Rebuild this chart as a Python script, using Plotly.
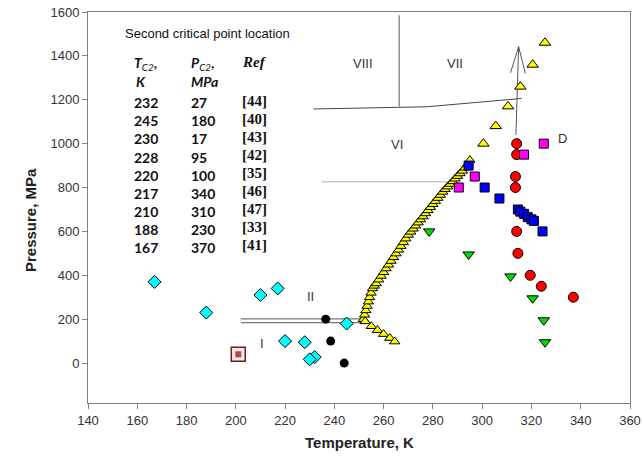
import plotly.graph_objects as go

# ---------------- data ----------------
# second critical point estimates (cyan diamonds) = table values
tc2 = [232, 245, 230, 228, 220, 217, 210, 188, 167]
pc2 = [27, 180, 17, 95, 100, 340, 310, 230, 370]
refs = ["[44]", "[40]", "[43]", "[42]", "[35]", "[46]", "[47]", "[33]", "[41]"]

# yellow triangles: melting line (upper branch)
yel_T = [251.8, 252.3, 252.8, 253.3, 253.8, 254.3, 254.9, 255.5, 256.2,
         257, 258, 259, 260, 261, 262, 263, 264, 265, 266, 267, 268, 269, 270,
         271, 272, 273, 274, 275, 276, 277, 278, 279, 280, 281, 282, 283, 284,
         285, 286, 287, 288, 289, 290, 291, 292, 293, 294, 295]
yel_P = [200, 220, 240, 260, 280, 300, 320, 340, 352,
         363, 380, 397, 414, 431, 448, 465, 482, 499, 516, 533, 550, 567, 584,
         598, 612, 626, 640, 654, 668, 682, 696, 710, 724, 738, 752, 766, 780,
         792, 804, 816, 828, 840, 852, 864, 876, 890, 905, 925]
# yellow triangles: lower branch
yel2_T = [252.5, 255, 257.5, 260, 262.5, 264.5]
yel2_P = [190, 168, 150, 132, 114, 98]
# yellow triangles: high-pressure branch
yel3_T = [300.5, 305.5, 310.5, 315.5, 320.5, 325.5]
yel3_P = [1000, 1080, 1170, 1260, 1360, 1460]

red_T = [314, 314, 313.5, 313.5, 314, 314.5, 319.5, 324, 337]
red_P = [1000, 950, 850, 800, 600, 500, 400, 350, 300]

mag_T = [325, 317, 297, 290.5]
mag_P = [1000, 950, 850, 800]

blue_T = [294.5, 301, 307, 314.5, 315.5, 317, 318.5, 320, 321, 324.5]
blue_P = [900, 800, 750, 700, 690, 680, 665, 655, 648, 600]

green_T = [278.5, 294.5, 311.5, 320.5, 325, 325.5]
green_P = [600, 495, 395, 295, 195, 95]

black_T = [236.5, 238.5, 244]
black_P = [200, 100, 0]

brown_T = [201]
brown_P = [40]

# phase-boundary sketch lines
vline_T = [266.3, 266.3]
vline_P = [1585, 1170]
hline_T = [231.5, 266.6, 277.5, 316]
hline_P = [1158, 1165, 1168, 1206]
arrow_T = [313.7, 314.8, None, 311.5, 314.8, 317.5]
arrow_P = [1040, 1442, None, 1323, 1442, 1320]
vi_T = [234.8, 288.2]
vi_P = [826, 826]
ii_T = [202, 251.8]
ii_P = [193, 193]

region_labels = ["VIII", "VII", "VI", "D", "II", "I"]
region_T = [251.5, 289, 265.3, 332.6, 230.5, 210.5]
region_P = [1366, 1366, 994, 1024, 302, 91]

x_ticks = list(range(140, 361, 20))
y_ticks = list(range(0, 1601, 200))

# ---------------- figure ----------------
fig = go.Figure()

def lines(x, y, color, width):
    fig.add_trace(go.Scatter(x=x, y=y, mode="lines", line=dict(color=color, width=width),
                             hoverinfo="skip", showlegend=False))

lines(vline_T, vline_P, "#555555", 1)
lines(hline_T, hline_P, "#444444", 1)
lines(arrow_T, arrow_P, "#555555", 1)
lines(vi_T, vi_P, "#c8c8c8", 1.5)
lines(ii_T, ii_P, "#777777", 5)
lines(ii_T, ii_P, "#ffffff", 2.5)

def pts(x, y, symbol, color, size, line_color="#000000", lw=1):
    fig.add_trace(go.Scatter(x=x, y=y, mode="markers", showlegend=False,
                             marker=dict(symbol=symbol, color=color, size=size,
                                         line=dict(color=line_color, width=lw))))

pts(yel_T, yel_P, "triangle-up", "#ffff00", 9)
pts(yel2_T, yel2_P, "triangle-up", "#ffff00", 9)
pts(yel3_T, yel3_P, "triangle-up", "#ffff00", 10)
pts(green_T, green_P, "triangle-down", "#00dd00", 10)
pts(red_T, red_P, "circle", "#ff0000", 10)
pts(blue_T, blue_P, "square", "#0000ff", 9)
pts(mag_T, mag_P, "square", "#ff00ff", 9)
pts(tc2, pc2, "diamond", "#00ffff", 10)
pts(black_T, black_P, "circle", "#000000", 9, "#000000", 0)
pts(brown_T, brown_P, "square", "#f3e8e8", 14, "#6b2020", 1.5)
pts(brown_T, brown_P, "square", "#b04848", 6, "#b04848", 0)

for lab, tx, py in zip(region_labels, region_T, region_P):
    fig.add_annotation(x=tx, y=py, text=lab, showarrow=False,
                       font=dict(family="Liberation Sans, Arial", size=13, color="#333333"))

# table
num_font = dict(family="Lato, Liberation Sans", size=14, color="#111111")
ref_font = dict(family="Liberation Serif, Times New Roman", size=15, color="#111111")
fig.add_annotation(x=188.4, y=1500, text="Second critical point location", showarrow=False,
                   font=dict(family="Liberation Sans, Arial", size=13, color="#111111"))
fig.add_annotation(x=157.7, y=1366, text="<b><i>T</i></b><sub><i>C2</i></sub><b>,</b>", showarrow=False,
                   xanchor="left", font=num_font)
fig.add_annotation(x=158.6, y=1285, text="<b><i>K</i></b>", showarrow=False,
                   xanchor="left", font=num_font)
fig.add_annotation(x=181.1, y=1366, text="<b><i>P</i></b><sub><i>C2</i></sub><b>,</b>", showarrow=False,
                   xanchor="left", font=num_font)
fig.add_annotation(x=181.1, y=1285, text="<b><i>MPa</i></b>", showarrow=False,
                   xanchor="left", font=num_font)
fig.add_annotation(x=201.5, y=1372, text="<b><i>Ref</i></b>", showarrow=False,
                   xanchor="left", font=ref_font)
for i, (t, p, r) in enumerate(zip(tc2, pc2, refs)):
    yy = 1186 - 82.3 * i
    fig.add_annotation(x=157.7, y=yy, text=f"<b>{t}</b>", showarrow=False, xanchor="left", font=num_font)
    fig.add_annotation(x=181.1, y=yy, text=f"<b>{p}</b>", showarrow=False, xanchor="left", font=num_font)
    fig.add_annotation(x=201.5, y=yy + 10, text=f"<b>{r}</b>", showarrow=False, xanchor="left", font=ref_font)

# axis titles
title_font = dict(family="Liberation Sans, Arial", size=15, color="#222222")
fig.add_annotation(xref="paper", yref="paper", x=0.5, y=-0.102, text="<b>Temperature, K</b>",
                   showarrow=False, xanchor="center", yanchor="middle", font=title_font)
fig.add_annotation(xref="paper", yref="paper", x=-0.107, y=0.468, text="<b>Pressure, MPa</b>",
                   showarrow=False, xanchor="center", yanchor="middle", textangle=-90, font=title_font)

axis_common = dict(showgrid=False, zeroline=False, showline=True, linecolor="#808080", linewidth=1,
                   mirror=True, ticks="outside", ticklen=5, tickcolor="#808080", automargin=False,
                   tickfont=dict(family="Liberation Sans, Arial", size=13, color="#333333"))
fig.update_layout(
    width=643, height=470,
    margin=dict(l=88, r=13, t=12, b=67),
    paper_bgcolor="white", plot_bgcolor="white",
    xaxis=dict(range=[140, 360], tickvals=x_ticks, **axis_common),
    yaxis=dict(range=[-182, 1600], tickvals=y_ticks, **axis_common),
)

fig.write_html("out.html", config={"displayModeBar": False},
               post_script="document.body.style.margin='0px';")
